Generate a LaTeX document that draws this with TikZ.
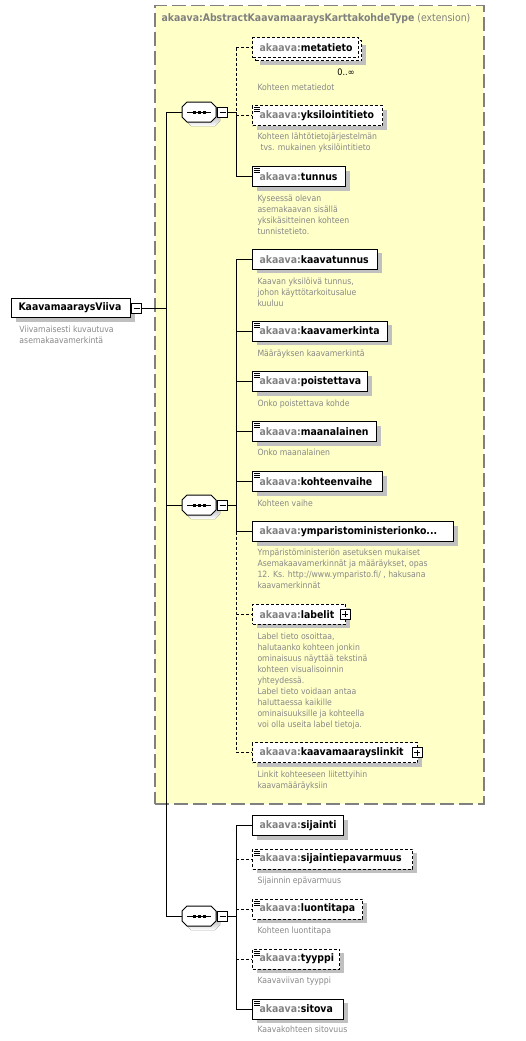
\documentclass[tikz,border=0pt]{standalone}
\usepackage{fontspec}
\setmainfont{DejaVu Sans Condensed}
\usetikzlibrary{positioning}

\definecolor{extfill}{RGB}{255,255,200}
\definecolor{extline}{RGB}{128,128,128}
\definecolor{prefix}{RGB}{128,128,128}
\definecolor{notetext}{RGB}{136,136,136}
\definecolor{shade}{RGB}{192,192,192}

\newcommand{\qn}[1]{\hspace*{7pt}{\color{prefix}akaava:}#1}
% octagon outline round a sequence node
\newcommand{\octpath}[1]{([xshift=5pt]#1.north west) -- ([xshift=-5pt]#1.north east) -- ([yshift=-5pt]#1.north east)
  -- ([yshift=5pt]#1.south east) -- ([xshift=-5pt]#1.south east) -- ([xshift=5pt]#1.south west)
  -- ([yshift=5pt]#1.south west) -- ([yshift=-5pt]#1.north west) -- cycle}
\newcommand{\seqmark}[1]{%
  \fill[shade, transform canvas={xshift=4pt,yshift=-4pt}] \octpath{#1};
  \draw[fill=white] \octpath{#1};
  \draw ([xshift=5pt]#1.west) -- ([xshift=-5pt]#1.east);
  \fill[black] ([shift={(-6.5pt,-1.5pt)}]#1.center) rectangle ++(3pt,3pt);
  \fill[black] ([shift={(-1.5pt,-1.5pt)}]#1.center) rectangle ++(3pt,3pt);
  \fill[black] ([shift={(3.5pt,-1.5pt)}]#1.center) rectangle ++(3pt,3pt);}

\tikzset{
  box/.style={draw=black, fill=white, line width=1pt, inner xsep=0pt, inner ysep=0pt,
    minimum height=20pt, text width=#1, align=left, anchor=west,
    font=\fontsize{10.4}{12}\selectfont\bfseries},
  elem/.style={box=#1, preaction={fill=shade, transform canvas={xshift=4pt,yshift=-4pt}}},
  opt/.style={dash pattern=on 3pt off 2pt},
  optlink/.style={dash pattern=on 3pt off 2pt},
  doc/.style={path picture={
    \foreach \k in {2,4,6}
      \draw[solid, black, line width=0.8pt] ([shift={(1.5pt,-\k pt)}]path picture bounding box.north west) -- ++(6pt,0pt);}},
  seq/.style={minimum width=33pt, minimum height=19pt, inner sep=0pt, anchor=west},
  minusbox/.style={draw=black, fill=white, line width=1pt, minimum size=10pt, inner sep=0pt,
    path picture={\draw[solid, black, line width=1pt] ([xshift=2pt]path picture bounding box.west) -- ([xshift=-2pt]path picture bounding box.east);}},
  plusbox/.style={draw=black, fill=white, line width=1pt, minimum size=10pt, inner sep=0pt, solid,
    path picture={\draw[black, line width=1pt] ([xshift=2pt]path picture bounding box.west) -- ([xshift=-2pt]path picture bounding box.east);
      \draw[black, line width=1pt] ([yshift=-2pt]path picture bounding box.north) -- ([yshift=2pt]path picture bounding box.south);}},
  note/.style={anchor=north west, align=left, inner sep=0pt, text=notetext, font=\fontsize{8.6}{11}\selectfont},
  extbox/.style={draw=extline, fill=extfill, line width=1.5pt, dash pattern=on 14pt off 5pt,
    minimum width=329pt, minimum height=798pt, inner sep=0pt, anchor=north west}
}

\begin{document}
\begin{tikzpicture}[x=1pt, y=-1pt, line width=1pt]
  \useasboundingbox (0,0) rectangle (526,1041);
  \coordinate (trunk) at (166,0);
  \coordinate (bus) at (236,0);

  % extension frame
  \node[extbox] (ext) at (154,5) {};
  \node[anchor=west, inner sep=0pt, text=prefix, font=\fontsize{10.4}{12}\selectfont] (ext-title) at (161,19)
    {\textbf{akaava:AbstractKaavamaaraysKarttakohdeType} (extension)};

  % root element
  \node[elem=119, minimum height=19pt] (root) at (11,308) {\hspace*{7pt}KaavamaaraysViiva};
  \node[minusbox, anchor=west] (rb) at (root.east) {};
  \node[note] (root-note) at (19,325) {Viivamaisesti kuvautuva\\asemakaavamerkintä};

  % sequences
  \node[seq] (s1) at (182,112) {};
  \seqmark{s1}
  \node[minusbox, right=1pt of s1] (m1) {};
  \node[seq] (s2) at (182,505) {};
  \seqmark{s2}
  \node[minusbox, right=1pt of s2] (m2) {};
  \node[seq] (s3) at (182,916) {};
  \seqmark{s3}
  \node[minusbox, right=1pt of s3] (m3) {};

  % first sequence
  \node[elem=106, opt] (meta-back) at (255,51) {};
  \node[box=106, opt] (meta) at (252,48) {\qn{metatieto}};
  \node[anchor=east, inner sep=0pt, font=\fontsize{9}{11}\selectfont] (meta-occ) at (355,72) {0..∞};
  \node[note] (meta-note) at (257,83) {Kohteen metatiedot};
  \node[elem=130, opt, doc] (yksil) at (252,115.5) {\qn{yksilointitieto}};
  \node[note] (yksil-note) at (257,132) {Kohteen lähtötietojärjestelmän\\\hspace*{3pt}tvs. mukainen yksilöintitieto};
  \node[elem=93, doc] (tunnus) at (252,176.5) {\qn{tunnus}};
  \node[note] (tunnus-note) at (257,194) {Kyseessä olevan\\asemakaavan sisällä\\yksikäsitteinen kohteen\\tunnistetieto.};

  % second sequence
  \node[elem=125] (ktunnus) at (252,259.3) {\qn{kaavatunnus}};
  \node[note] (ktunnus-note) at (257,277) {Kaavan yksilöivä tunnus,\\johon käyttötarkoitusalue\\kuuluu};
  \node[elem=135, doc] (kmerk) at (252,331) {\qn{kaavamerkinta}};
  \node[note] (kmerk-note) at (257,349) {Määräyksen kaavamerkintä};
  \node[elem=115, doc] (poist) at (252,381.7) {\qn{poistettava}};
  \node[note] (poist-note) at (257,399) {Onko poistettava kohde};
  \node[elem=124, doc] (maanal) at (252,431.7) {\qn{maanalainen}};
  \node[note] (maanal-note) at (257,448.5) {Onko maanalainen};
  \node[elem=130, doc] (kvaihe) at (252,481.7) {\qn{kohteenvaihe}};
  \node[note] (kvaihe-note) at (257,499) {Kohteen vaihe};
  \node[elem=201] (ympar) at (252,531.7) {\qn{ymparistoministerionko...}};
  \node[note] (ympar-note) at (257,548.5) {Ympäristöministeriön asetuksen mukaiset\\Asemakaavamerkinnät ja määräykset, opas\\12. Ks. http://www.ymparisto.fi/ , hakusana\\kaavamerkinnät};
  \node[elem=93, opt] (labelit) at (252,614.3) {\qn{labelit}};
  \node[plusbox] (labelit-plus) at ([xshift=-1pt]labelit.east) {};
  \node[note] (labelit-note) at (257,632) {Label tieto osoittaa,\\halutaanko kohteen jonkin\\ominaisuus näyttää tekstinä\\kohteen visualisoinnin\\yhteydessä.\\Label tieto voidaan antaa\\haluttaessa kaikille\\ominaisuuksille ja kohteella\\voi olla useita label tietoja.};
  \node[elem=165, opt] (linkit) at (252,752.7) {\qn{kaavamaarayslinkit}};
  \node[plusbox] (linkit-plus) at ([xshift=-1pt]linkit.east) {};
  \node[note] (linkit-note) at (257,770) {Linkit kohteeseen liitettyihin\\kaavamääräyksiin};

  % third sequence
  \node[elem=91] (sijainti) at (252,825.5) {\qn{sijainti}};
  \node[elem=160, opt, doc] (sepav) at (252,859) {\qn{sijaintiepavarmuus}};
  \node[note] (sepav-note) at (257,876) {Sijainnin epävarmuus};
  \node[elem=110, opt, doc] (luonti) at (252,909) {\qn{luontitapa}};
  \node[note] (luonti-note) at (257,926) {Kohteen luontitapa};
  \node[elem=87, opt, doc] (tyyppi) at (252,959) {\qn{tyyppi}};
  \node[note] (tyyppi-note) at (257,976) {Kaavaviivan tyyppi};
  \node[elem=91, doc] (sitova) at (252,1009) {\qn{sitova}};
  \node[note] (sitova-note) at (257,1025.5) {Kaavakohteen sitovuus};

  % trunk
  \draw (rb.east) -- (rb.east -| trunk);
  \draw (s1.west -| trunk) -- (s3.west -| trunk);
  \draw (s1.west -| trunk) -- (s1.west);
  \draw (s2.west -| trunk) -- (s2.west);
  \draw (s3.west -| trunk) -- (s3.west);
  \draw (m1.east) -- (m1.east -| bus);
  \draw (m2.east) -- (m2.east -| bus);
  \draw (m3.east) -- (m3.east -| bus);

  % bus 1
  \draw[optlink] (meta.west -| bus) -- (m1.east -| bus);
  \draw (m1.east -| bus) -- (tunnus.west -| bus);
  \draw[optlink] (meta.west -| bus) -- (meta.west);
  \draw[optlink] (yksil.west -| bus) -- (yksil.west);
  \draw (tunnus.west -| bus) -- (tunnus.west);

  % bus 2
  \draw (ktunnus.west -| bus) -- (ympar.west -| bus);
  \draw[optlink] (ympar.west -| bus) -- (linkit.west -| bus);
  \draw (ktunnus.west -| bus) -- (ktunnus.west);
  \draw (kmerk.west -| bus) -- (kmerk.west);
  \draw (poist.west -| bus) -- (poist.west);
  \draw (maanal.west -| bus) -- (maanal.west);
  \draw (kvaihe.west -| bus) -- (kvaihe.west);
  \draw (ympar.west -| bus) -- (ympar.west);
  \draw[optlink] (labelit.west -| bus) -- (labelit.west);
  \draw[optlink] (linkit.west -| bus) -- (linkit.west);

  % bus 3
  \draw (sijainti.west -| bus) -- (sitova.west -| bus);
  \draw (sijainti.west -| bus) -- (sijainti.west);
  \draw[optlink] (sepav.west -| bus) -- (sepav.west);
  \draw[optlink] (luonti.west -| bus) -- (luonti.west);
  \draw[optlink] (tyyppi.west -| bus) -- (tyyppi.west);
  \draw (sitova.west -| bus) -- (sitova.west);
\end{tikzpicture}
\end{document}
